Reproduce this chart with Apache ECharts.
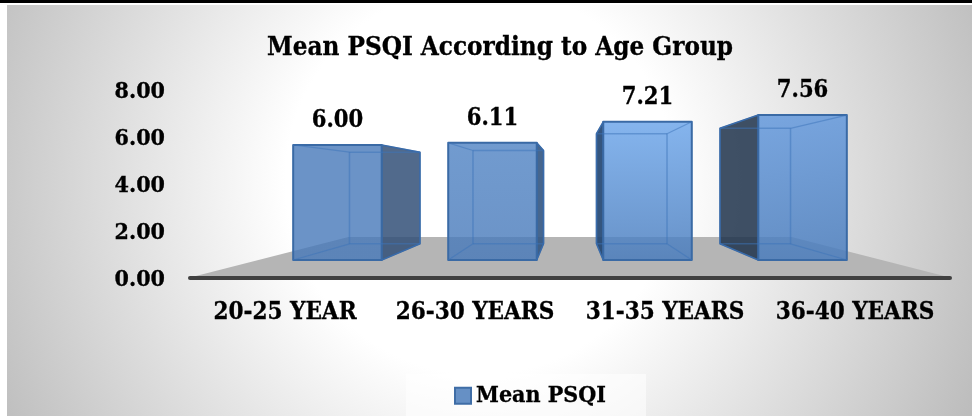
<!DOCTYPE html>
<html><head><meta charset="utf-8">
<style>html,body{margin:0;padding:0;background:#fff}#c{width:972px;height:416px}</style>
<script src="https://cdn.jsdelivr.net/npm/echarts@6/dist/echarts.min.js"></script>
</head><body><div id="c"></div>
<script>
const categories = ['20-25 YEAR', '26-30 YEARS', '31-35 YEARS', '36-40 YEARS'];
const meanPsqi = [6.00, 6.11, 7.21, 7.56];
const titleText = 'Mean PSQI According to Age Group';
const seriesName = 'Mean PSQI';
const FONT = '"DejaVu Serif Condensed","DejaVu Serif",serif';
const HEAVY = { textBorderColor: '#000', textBorderWidth: 0.3 };

const chart = echarts.init(document.getElementById('c'));
// perspective depth scales
const S_FLOOR_BACK = 0.58, S_FRONT = 0.816, S_BACK = 0.65, HORIZON = 97.7, VX = 570;
const barW = 0.466 / 0.816;
const sideCol = ['rgba(50,80,120,0.85)', 'rgba(50,85,130,0.9)', 'rgba(35,70,115,0.92)', 'rgba(30,50,75,0.85)'];
const frontCol = [
  ['rgba(70,120,185,0.8)', 'rgba(70,120,185,0.8)'],
  ['rgba(78,130,195,0.8)', 'rgba(70,120,185,0.8)'],
  ['rgba(112,168,235,0.85)', 'rgba(70,122,188,0.82)'],
  ['rgba(95,150,220,0.82)', 'rgba(70,122,188,0.82)']
];

function renderBar(params, api) {
  const i = api.value(0), v = api.value(1);
  const band = api.size([1, 0])[0];
  const half = band * barW / 2;
  const c = api.coord([i, 0])[0];
  const mk = (dx, val, s) => {
    const base = api.coord([i, 0]);
    const top = api.coord([i, val]);
    const xp = c + dx;
    return [VX + (xp - VX) * s, base[1] - HORIZON * (1 - s) - (base[1] - top[1]) * s];
  };
  const fbl = mk(-half, 0, S_FRONT), fbr = mk(half, 0, S_FRONT), ftl = mk(-half, v, S_FRONT), ftr = mk(half, v, S_FRONT);
  const bbl = mk(-half, 0, S_BACK), bbr = mk(half, 0, S_BACK), btl = mk(-half, v, S_BACK), btr = mk(half, v, S_BACK);
  const grad = new echarts.graphic.LinearGradient(0, 0, 0, 1, [
    { offset: 0, color: frontCol[i][0] }, { offset: 1, color: frontCol[i][1] }
  ]);
  const line = (a, b, stroke, w) => ({
    type: 'line', shape: { x1: a[0], y1: a[1], x2: b[0], y2: b[1] },
    style: { stroke, lineWidth: w }
  });
  const side = i < 2 ? [fbr, bbr, btr, ftr] : [fbl, bbl, btl, ftl];
  const lx = (ftl[0] + ftr[0]) / 2;
  const inner = 'rgba(60,115,185,0.5)';
  return {
    type: 'group',
    children: [
      { type: 'polygon', shape: { points: side }, style: { fill: sideCol[i], stroke: '#38659e', lineWidth: 1.5, lineJoin: 'round' } },
      { type: 'polygon', shape: { points: [fbl, fbr, ftr, ftl] }, style: { fill: grad, stroke: '#3a6aa5', lineWidth: 2, lineJoin: 'round' } },
      line(btl, btr, inner, 1.5), line(bbl, bbr, inner, 1.5),
      line(btl, bbl, inner, 1.5), line(btr, bbr, inner, 1.5),
      line(ftl, btl, inner, 1.2), line(ftr, btr, inner, 1.2),
      line(fbl, bbl, inner, 1.2), line(fbr, bbr, inner, 1.2),
      { type: 'text', style: { x: lx, y: ftl[1] - 24, text: api.value(1).toFixed(2), fill: '#000', stroke: '#000', lineWidth: 0.3, font: 'bold 23.5px ' + FONT, align: 'center', verticalAlign: 'middle' } }
    ]
  };
}

function renderFloor(params, api) {
  const cs = params.coordSys;
  const yb = cs.y + cs.height;
  const l = cs.x - 2, r = cs.x + cs.width + 2;
  const s = S_FLOOR_BACK;
  return {
    type: 'polygon',
    shape: { points: [[l, yb], [r, yb], [VX + (r - VX) * s, yb - HORIZON * (1 - s)], [VX + (l - VX) * s, yb - HORIZON * (1 - s)]] },
    style: { fill: '#b5b5b5' }
  };
}

chart.setOption({
  animation: false,
  graphic: [{
    type: 'rect', z: -10, silent: true,
    shape: { x: 7, y: 5, width: 965, height: 411 },
    style: { fill: { type: 'radial', x: 480, y: 180, r: 540, global: true, colorStops: [
      { offset: 0, color: '#ffffff' }, { offset: 0.36, color: '#ffffff' }, { offset: 1, color: '#bdbdbd' }
    ] } }
  }, {
    type: 'rect', z: -9, silent: true,
    shape: { x: 0, y: 0, width: 972, height: 3 }, style: { fill: '#000' }
  }, {
    type: 'rect', z: -8, silent: true,
    shape: { x: 406, y: 374, width: 240, height: 42 }, style: { fill: 'rgba(255,255,255,0.55)' }
  }],
  title: {
    text: titleText, left: 495, top: 30, textAlign: 'center',
    textStyle: Object.assign({ fontFamily: FONT, fontWeight: 'bold', fontSize: 25.8, color: '#000' }, HEAVY)
  },
  legend: {
    data: [{ name: seriesName, icon: 'rect' }], left: 454, top: 384, padding: 0,
    itemWidth: 16, itemHeight: 16, itemGap: 5,
    textStyle: Object.assign({ fontFamily: FONT, fontWeight: 'bold', fontSize: 23, color: '#000' }, HEAVY)
  },
  grid: { left: 190, right: 22, top: 90, bottom: 138 },
  xAxis: {
    type: 'category', data: categories, z: 5,
    axisTick: { show: false },
    axisLine: { show: true, lineStyle: { color: '#404040', width: 4, cap: 'round' } },
    axisLabel: Object.assign({ margin: 23, fontFamily: FONT, fontWeight: 'bold', fontSize: 24, color: '#000', interval: 0 }, HEAVY)
  },
  yAxis: {
    type: 'value', min: 0, max: 8, interval: 2,
    splitLine: { show: false }, axisLine: { show: false }, axisTick: { show: false },
    axisLabel: Object.assign({ margin: 25, verticalAlign: 'top', lineHeight: 4, formatter: v => v.toFixed(2), fontFamily: FONT, fontWeight: 'bold', fontSize: 23, color: '#000' }, HEAVY)
  },
  series: [{
    type: 'custom', silent: true, z: 1, renderItem: renderFloor, data: [[0, 0]], legendHoverLink: false,
    encode: { x: 0, y: 1 }
  }, {
    name: seriesName, type: 'custom', z: 2, renderItem: renderBar,
    itemStyle: { color: '#6690c5', borderColor: '#3f6da6', borderWidth: 2 },
    encode: { x: 0, y: 1 },
    data: meanPsqi.map((v, i) => [i, v])
  }]
});
</script></body></html>
